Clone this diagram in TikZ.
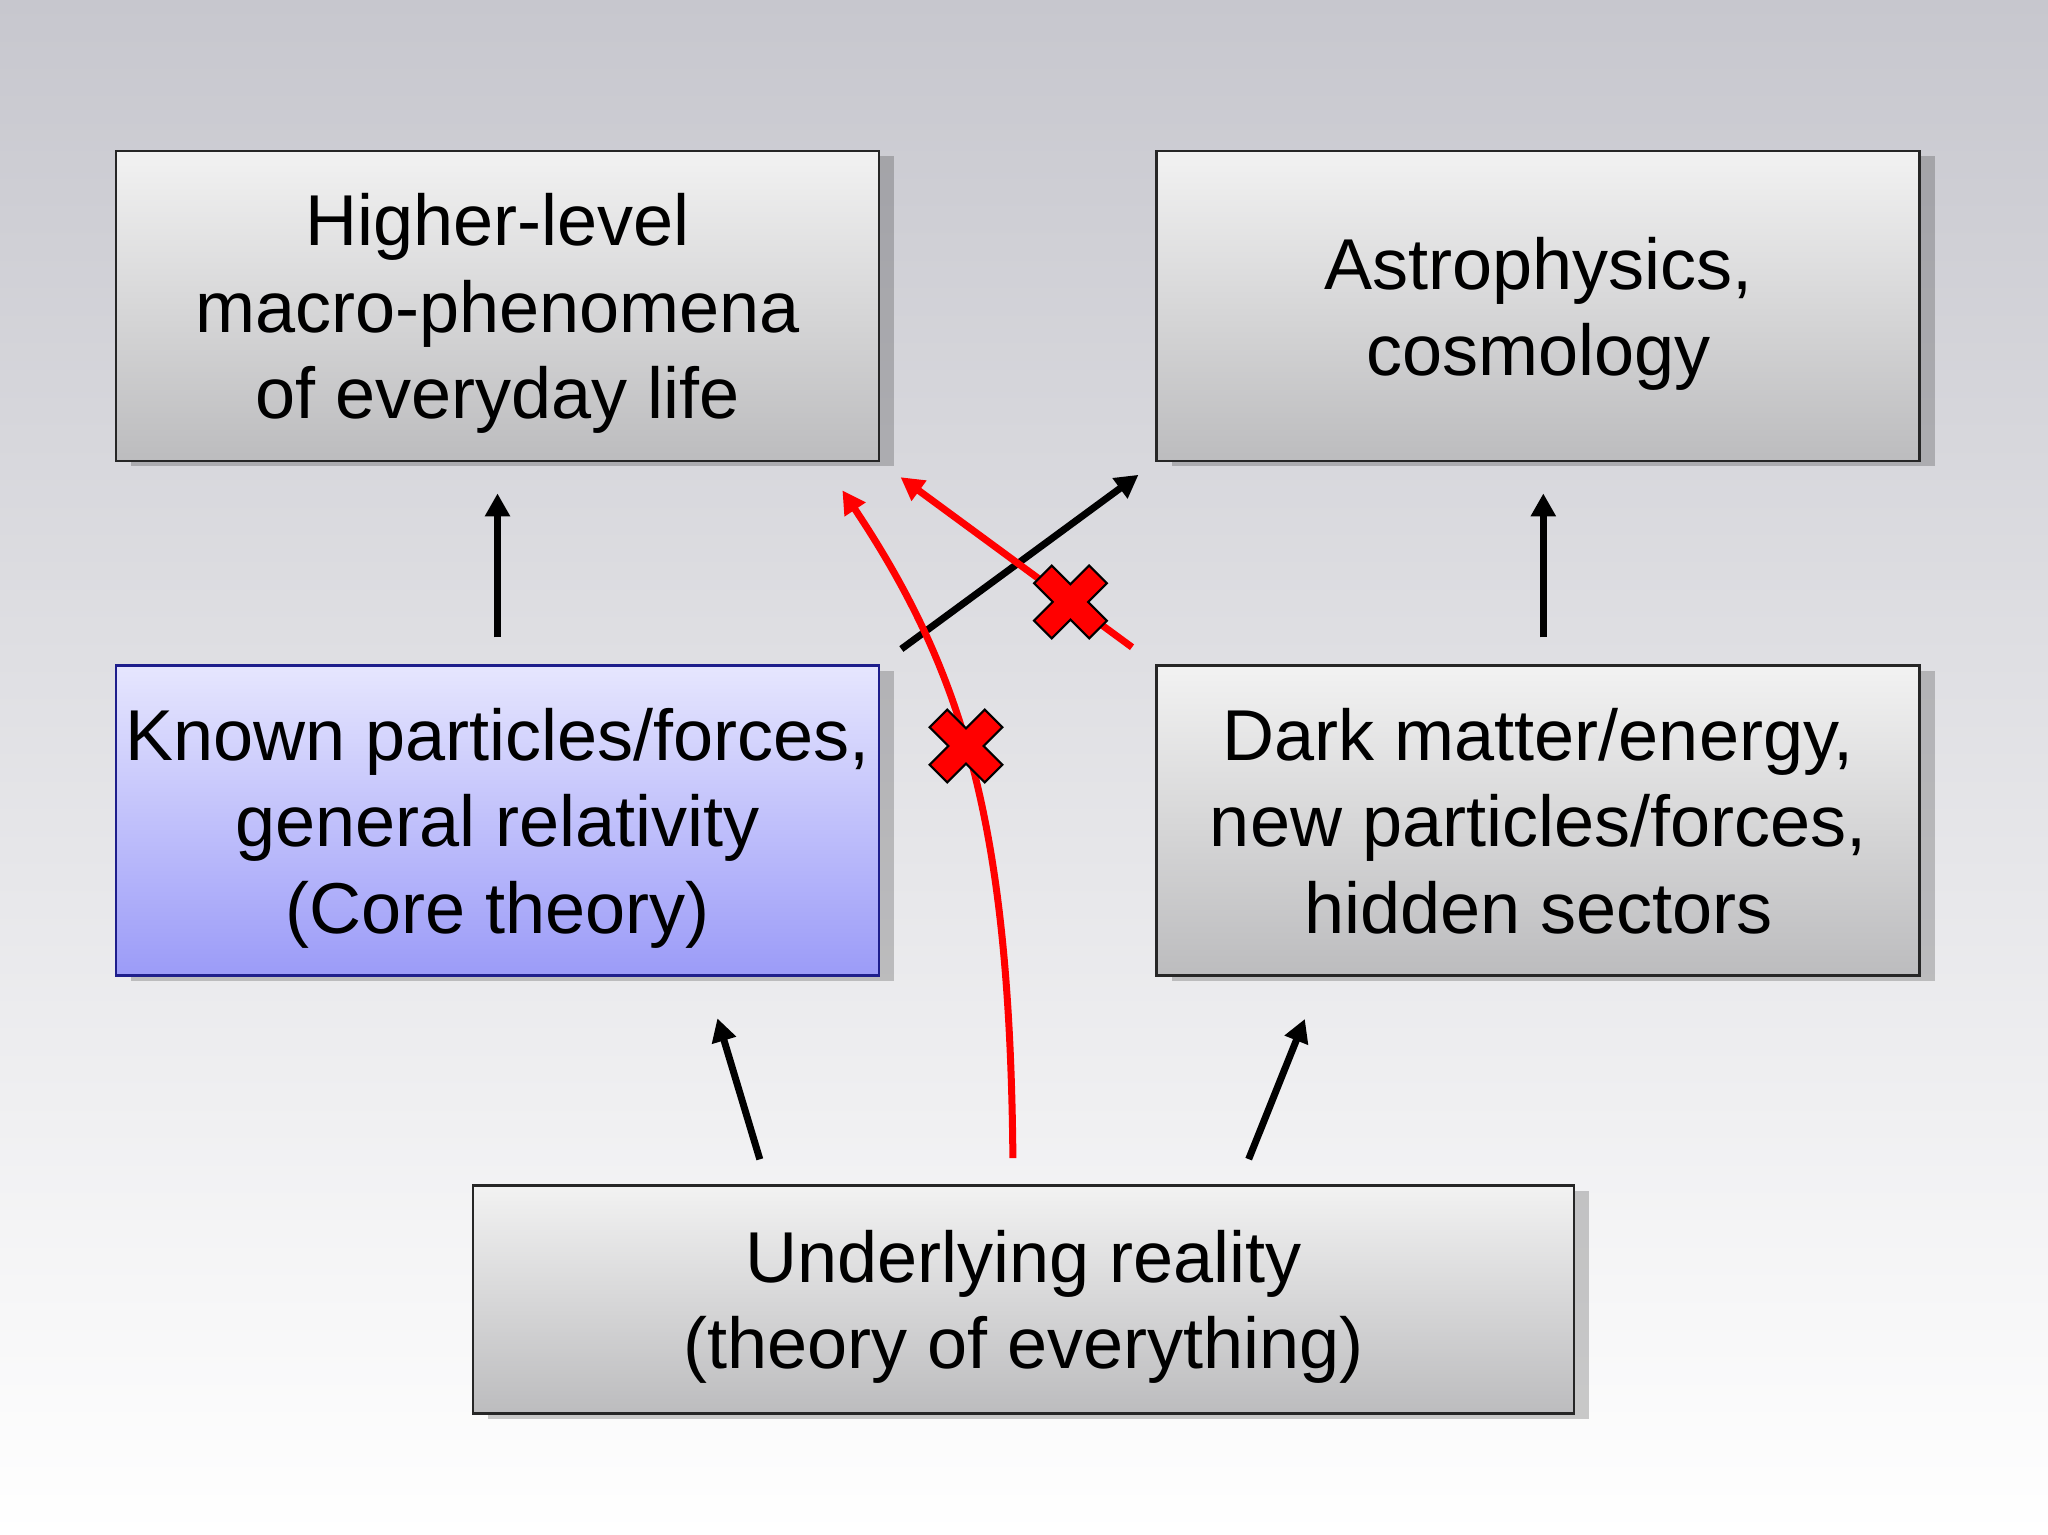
\documentclass[tikz,border=0pt]{standalone}
\usepackage{fontspec}
\setmainfont{Liberation Sans}
\usetikzlibrary{positioning,calc,shadows,arrows.meta}

\definecolor{bgtop}{RGB}{199,199,206}
\definecolor{boxtop}{RGB}{242,242,242}
\definecolor{boxbot}{RGB}{188,188,190}
\definecolor{coretop}{RGB}{230,230,254}
\definecolor{corebot}{RGB}{155,155,248}
\definecolor{coreline}{RGB}{30,30,140}

\tikzset{
  box/.style={rectangle, draw=black!85, line width=0.8pt, top color=boxtop, bottom color=boxbot,
    minimum width=7.63cm, minimum height=3.10cm, align=center, inner sep=0pt, text depth=0pt,
    font=\fontsize{20.5}{24.5}\selectfont,
    drop shadow={shadow xshift=0.15cm, shadow yshift=-0.05cm, fill=black, opacity=0.2}},
  corebox/.style={box, draw=coreline, top color=coretop, bottom color=corebot},
  arr/.style={-{Triangle[length=0.23cm,width=0.24cm]}, line width=0.07cm, black},
  redarr/.style={arr, red},
  nogo/.pic={
    \filldraw[fill=red, draw=black, line width=0.6pt, rotate=45]
      (0.125,0.125) -- (0.125,0.39) -- (-0.125,0.39) -- (-0.125,0.125) -- (-0.39,0.125)
      -- (-0.39,-0.125) -- (-0.125,-0.125) -- (-0.125,-0.39) -- (0.125,-0.39)
      -- (0.125,-0.125) -- (0.39,-0.125) -- (0.39,0.125) -- cycle;
  }
}

\begin{document}
\begin{tikzpicture}
  % background
  \shade[top color=bgtop, bottom color=white] (0,0) rectangle (20.48,15.35);
  \useasboundingbox (0,0) rectangle (20.48,15.35);

  \node[box] (macro) at (4.975,12.29) {Higher-level\\macro-phenomena\\of everyday life};
  \node[box, right=2.75cm of macro] (astro) {Astrophysics,\\cosmology};
  \node[corebox, below=2.02cm of macro] (core) {Known particles/forces,\\general relativity\\(Core theory)};
  \node[box, below=2.02cm of astro] (dark) {Dark matter/energy,\\new particles/forces,\\hidden sectors};
  \coordinate (mid) at ($(core.south)!0.5!(dark.south)$);
  \node[box, minimum width=11.01cm, minimum height=2.28cm, below=2.07cm of mid, xshift=0.055cm] (under)
    {Underlying reality\\(theory of everything)};

  % allowed steps
  \draw[arr, shorten <=0.27cm, shorten >=0.31cm] (core) -- (macro);
  \draw[arr, shorten <=0.27cm, shorten >=0.31cm] ([xshift=0.05cm]dark.north) -- ([xshift=0.05cm]astro.south);
  \draw[arr, shorten <=0.26cm, shorten >=0.43cm]
    ($(under.north west)!0.268!(under.north east)$) -- ($(core.south west)!0.771!(core.south east)$);
  \draw[arr, shorten <=0.27cm, shorten >=0.45cm]
    ($(under.north west)!0.695!(under.north east)$) -- ($(dark.south west)!0.217!(dark.south east)$);
  \draw[arr, shorten <=0.26cm, shorten >=0.21cm] (core.north east) -- (astro.south west);

  % forbidden steps
  \draw[redarr, shorten <=0.29cm, shorten >=0.25cm] (dark.north west) -- (macro.south east);
  \draw[redarr] ($(under.north)+(-0.105,0.26)$) .. controls +(-0.03,3.27) and +(1.24,-1.86)
    .. ($(macro.south east)+(-0.38,-0.28)$);

  \pic at ($(dark.north west)!0.309!(macro.south east)$) {nogo};
  \pic at (9.66,7.89) {nogo};
\end{tikzpicture}
\end{document}
